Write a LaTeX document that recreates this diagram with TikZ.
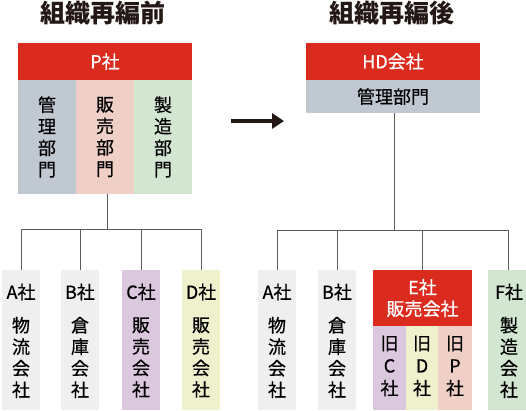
\documentclass[tikz,border=0pt]{standalone}
\usepackage{fontspec}
\setmainfont{Noto Sans CJK JP}
\newfontfamily\bodyfont[FakeBold=0.6]{Noto Sans CJK JP}
\usepackage{xcolor}
\usetikzlibrary{positioning,arrows.meta}

\definecolor{hdred}{RGB}{218,43,30}
\definecolor{mgmtblue}{RGB}{192,200,210}
\definecolor{salespink}{RGB}{240,207,198}
\definecolor{mfggreen}{RGB}{210,230,210}
\definecolor{subgray}{RGB}{239,239,239}
\definecolor{cpurple}{RGB}{220,200,222}
\definecolor{dyellow}{RGB}{239,240,204}
\definecolor{linegray}{RGB}{95,90,90}
\definecolor{titleink}{RGB}{35,24,21}

\begin{document}
\begin{tikzpicture}[x=1pt,y=-1pt,
    box/.style={rectangle, inner sep=0pt, outer sep=0pt, anchor=north west},
    txt/.style={inner sep=0pt, align=center, font=\bodyfont\fontsize{18}{21.5}\selectfont},
    wtxt/.style={txt, text=white},
    title/.style={inner sep=0pt, text=titleink, font=\fontsize{25}{28}\selectfont\bfseries},
    conn/.style={draw=linegray, line width=1pt}]
    \useasboundingbox (0,0) rectangle (526,410);

    % Titles
    \node[title] (tbefore) at (103,13) {組織再編前};
    \node[title] (tafter) at (392,13) {組織再編後};

    % Before: P company
    \node[box, fill=hdred, minimum width=174pt, minimum height=37pt] (phead) at (18,43) {};
    \node[wtxt] at (phead.center) {P社};
    \node[box, fill=mgmtblue, minimum width=58pt, minimum height=114pt] (pmgmt) at (18,80) {};
    \node[box, fill=salespink, minimum width=58pt, minimum height=114pt] (psales) at (76,80) {};
    \node[box, fill=mfggreen, minimum width=58pt, minimum height=114pt] (pmfg) at (134,80) {};
    \node[txt] at (pmgmt.center) {管\\理\\部\\門};
    \node[txt] at (psales.center) {販\\売\\部\\門};
    \node[txt] at (pmfg.center) {製\\造\\部\\門};

    % Before: subsidiaries
    \foreach \n/\x/\c/\lab/\body in {la/2/subgray/A社/{物\\流\\会\\社},
        lb/61/subgray/B社/{倉\\庫\\会\\社},
        lc/122/cpurple/C社/{販\\売\\会\\社},
        ld/182/dyellow/D社/{販\\売\\会\\社}} {
        \node[box, fill=\c, minimum width=38pt, minimum height=140pt] (\n) at (\x,270) {};
        \node[txt] at ([yshift=-22pt]\n.north) {\lab};
        \node[txt] at ([yshift=-87.5pt]\n.north) {\body};
    }

    % Arrow
    \coordinate (arrfrom) at (231,121);
    \coordinate (arrto) at (284,121);
    \draw[-{Triangle[length=12pt,width=15pt]}, line width=3.5pt, titleink] (arrfrom) -- (arrto);

    % After: HD company
    \node[box, fill=hdred, minimum width=174pt, minimum height=37pt] (hdhead) at (306,43) {};
    \node[wtxt] at (hdhead.center) {HD会社};
    \node[box, fill=mgmtblue, minimum width=174pt, minimum height=33pt] (hdmgmt) at (306,80) {};
    \node[txt] at (hdmgmt.center) {管理部門};

    % After: subsidiaries
    \foreach \n/\x/\w/\c/\lab/\body in {ra/258/38/subgray/A社/{物\\流\\会\\社},
        rb/318/38/subgray/B社/{倉\\庫\\会\\社},
        rf/488/42/mfggreen/F社/{製\\造\\会\\社}} {
        \node[box, fill=\c, minimum width=\w pt, minimum height=140pt] (\n) at (\x,270) {};
        \node[txt] at ([yshift=-22pt]\n.north) {\lab};
        \node[txt] at ([yshift=-87.5pt]\n.north) {\body};
    }

    % After: E company (merged)
    \node[box, fill=hdred, minimum width=99pt, minimum height=56pt] (re) at (373,270) {};
    \node[wtxt] at (re.center) {E社\\販売会社};
    \node[box, fill=cpurple, minimum width=33pt, minimum height=84pt] (rec) at (373,326) {};
    \node[box, fill=dyellow, minimum width=32pt, minimum height=84pt] (red) at (406,326) {};
    \node[box, fill=salespink, minimum width=34pt, minimum height=84pt] (rep) at (438,326) {};
    \node[txt, font=\bodyfont\fontsize{18}{22.5}\selectfont] at ([yshift=2pt]rec.center) {旧\\C\\社};
    \node[txt, font=\bodyfont\fontsize{18}{22.5}\selectfont] at ([yshift=2pt]red.center) {旧\\D\\社};
    \node[txt, font=\bodyfont\fontsize{18}{22.5}\selectfont] at ([yshift=2pt]rep.center) {旧\\P\\社};

    % Connectors
    \coordinate (lbus) at (107,229);
    \coordinate (rbus) at (394,230);
    \draw[conn] (psales.south -| lbus) -- (lbus);
    \foreach \n in {la,lb,lc,ld}
        \draw[conn] (lbus) -| (\n.north);
    \draw[conn] (hdmgmt.south -| rbus) -- (rbus);
    \foreach \n in {ra,rb,re}
        \draw[conn] (rbus) -| (\n.north);
    \draw[conn] (rbus) -| ([xshift=-0.5pt]rf.north);
\end{tikzpicture}
\end{document}
